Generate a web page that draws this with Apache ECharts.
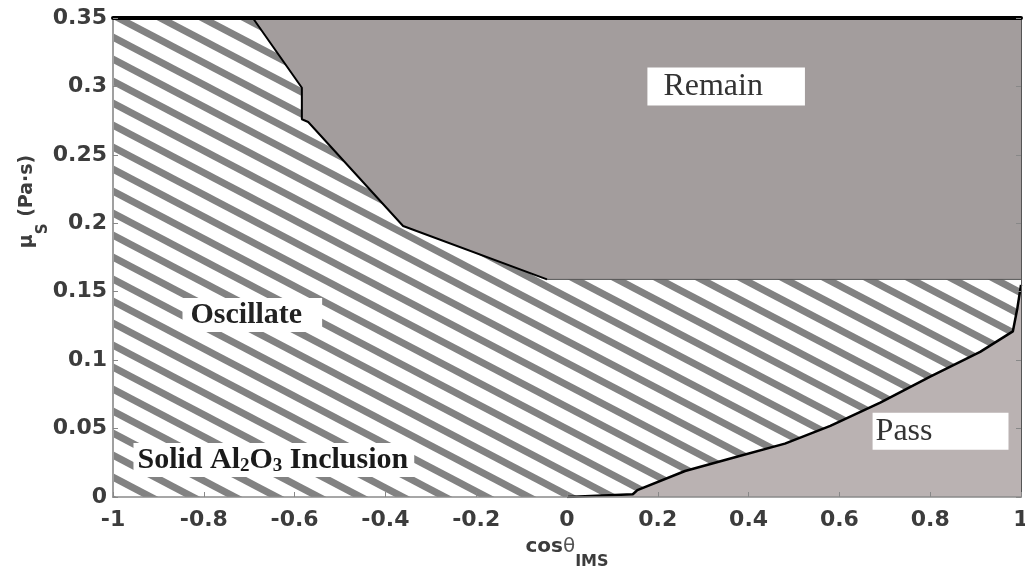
<!DOCTYPE html>
<html><head><meta charset="utf-8">
<script src="https://cdn.jsdelivr.net/npm/echarts@6/dist/echarts.min.js"></script>
<style>html,body{margin:0;padding:0;background:#fff}#c{width:1025px;height:567px}</style>
</head><body><div id="c"></div>
<script>
// ---- data ----
const xRange = [-1, 1];
const yRange = [0, 0.35];
const xTickStep = 0.2;
const yTickStep = 0.05;
// boundary between Oscillate (hatched) and Remain
const remainEdgeX = [-0.692, -0.584, -0.584, -0.570, -0.361, -0.044, 1.0];
const remainEdgeY = [0.350, 0.299, 0.276, 0.274, 0.198, 0.159, 0.159];
// boundary between Oscillate (hatched) and Pass
const passEdgeX = [0, 0.145, 0.155, 0.26, 0.37, 0.48, 0.58, 0.69, 0.80, 0.91, 0.982, 0.992, 1.0];
const passEdgeY = [0, 0.002, 0.005, 0.019, 0.029, 0.039, 0.052, 0.069, 0.088, 0.106, 0.121, 0.138, 0.155];
// region annotations
const regionNames = ['Remain', 'Pass', 'Oscillate', 'Solid Al2O3 Inclusion'];
const solidLabelParts = ['Solid Al', '2', 'O', '3', ' Inclusion'];
const labelX = [0.176, 0.672, -0.848, -0.956];
const labelY = [0.300, 0.048, 0.133, 0.027];

// ---- build ----
const pairs = (xs, ys) => xs.map((x, i) => [x, ys[i]]);
const remainEdge = pairs(remainEdgeX, remainEdgeY);
const passEdge = pairs(passEdgeX, passEdgeY);
const remainPoly = remainEdge.concat([[xRange[1], yRange[1]]]);
const passPoly = passEdge.concat([[xRange[1], yRange[0]]]);
const fullPoly = [[xRange[0], yRange[0]], [xRange[1], yRange[0]], [xRange[1], yRange[1]], [xRange[0], yRange[1]]];

// diagonal stripe tile
const PX = 42, PY = 22;
const tile = document.createElement('canvas');
tile.width = PX; tile.height = PY;
const tc = tile.getContext('2d');
tc.fillStyle = '#ffffff'; tc.fillRect(0, 0, PX, PY);
tc.strokeStyle = '#828282'; tc.lineWidth = 7;
for (let n = -2; n <= 3; n++) {
  tc.beginPath();
  tc.moveTo(-PX, PY * (-1 - n));
  tc.lineTo(2 * PX, PY * (2 - n));
  tc.stroke();
}

function polySeries(points, style, z) {
  return {
    type: 'custom', coordinateSystem: 'cartesian2d', data: points, z: z, silent: true,
    encode: { x: 0, y: 1 },
    renderItem: function (params, api) {
      if (params.dataIndex !== 0) return null;
      return { type: 'polygon', shape: { points: points.map(p => api.coord(p)) }, style: style };
    }
  };
}

const tickFont = { fontFamily: 'DejaVu Sans', fontWeight: 'bold', fontSize: 22, color: '#3c3c3c' };
const serif = 'Liberation Serif';

const chart = echarts.init(document.getElementById('c'));
chart.setOption({
  animation: false,
  backgroundColor: '#ffffff',
  grid: { left: 113, right: 4, top: 18, bottom: 70, containLabel: false, outerBoundsMode: 'none' },
  xAxis: [{
    type: 'value', min: xRange[0], max: xRange[1], interval: xTickStep, position: 'bottom', z: 10,
    axisLine: { show: true, onZero: false, lineStyle: { color: '#8a8a8a', width: 1.5 } },
    axisTick: { show: true, inside: true, length: 5, lineStyle: { color: '#888' } },
    axisLabel: Object.assign({ margin: 12 }, tickFont),
    splitLine: { show: false },
    name: '{a|cos}{t|θ}{s|IMS}', nameLocation: 'middle', nameGap: 40, nameMoveOverlap: false,
    nameTextStyle: { rich: {
      a: { fontFamily: 'DejaVu Sans', fontWeight: 'bold', fontSize: 20, color: '#3c3c3c', lineHeight: 22, verticalAlign: 'top' },
      t: { fontFamily: 'DejaVu Sans', fontSize: 20, color: '#555', lineHeight: 22, verticalAlign: 'top' },
      s: { fontFamily: 'DejaVu Sans', fontWeight: 'bold', fontSize: 16, color: '#3c3c3c', lineHeight: 33, verticalAlign: 'bottom' }
    } }
  }, {
    type: 'value', min: xRange[0], max: xRange[1], position: 'top', z: 10,
    axisLine: { show: true, onZero: false, lineStyle: { color: '#000', width: 4 } },
    axisTick: { show: false }, axisLabel: { show: false }, splitLine: { show: false }
  }],
  yAxis: [{
    type: 'value', min: yRange[0], max: yRange[1], interval: yTickStep, position: 'left', z: 10,
    axisLine: { show: true, onZero: false, lineStyle: { color: '#a0a0a0', width: 2 } },
    axisTick: { show: true, inside: true, length: 5, lineStyle: { color: '#888' } },
    axisLabel: Object.assign({ margin: 6, padding: [8, 0, 0, 0] }, tickFont),
    splitLine: { show: false },
    name: '{m|μ}{s|S}{m| (Pa·s)}', nameLocation: 'middle', nameRotate: 90, nameGap: 62, nameMoveOverlap: false,
    nameTextStyle: { padding: [0, 0, 0, 112], rich: {
      m: { fontFamily: 'DejaVu Sans', fontWeight: 'bold', fontSize: 19, color: '#3c3c3c', lineHeight: 22, verticalAlign: 'top' },
      s: { fontFamily: 'DejaVu Sans', fontWeight: 'bold', fontSize: 15, color: '#3c3c3c', lineHeight: 33, verticalAlign: 'bottom' }
    } }
  }, {
    type: 'value', min: yRange[0], max: yRange[1], interval: yTickStep, position: 'right', z: 10,
    axisLine: { show: true, onZero: false, lineStyle: { color: '#555', width: 1 } },
    axisTick: { show: true, inside: true, length: 5, lineStyle: { color: '#888' } },
    axisLabel: { show: false }, splitLine: { show: false }
  }],
  series: [
    polySeries(fullPoly, { fill: { image: tile, repeat: 'repeat' } }, 1),
    polySeries(remainPoly, { fill: '#a39d9d' }, 2),
    polySeries(passPoly, { fill: '#bab2b2' }, 2),
    { type: 'line', data: remainEdge.slice(0, 6), symbol: 'none', silent: true, z: 5,
      lineStyle: { color: '#000', width: 2 } },
    { type: 'line', data: remainEdge.slice(5), symbol: 'none', silent: true, z: 5,
      lineStyle: { color: '#555', width: 1 } },
    { type: 'line', data: passEdge, symbol: 'none', silent: true, z: 5,
      lineStyle: { color: '#000', width: 2.5 } },
    {
      type: 'scatter', symbolSize: 1, itemStyle: { color: 'rgba(0,0,0,0)', opacity: 1 }, z: 30, silent: true,
      label: { show: true, position: 'right', distance: 0, opacity: 1 },
      data: [
        { value: [labelX[0], labelY[0]], label: { formatter: regionNames[0], fontFamily: serif, fontSize: 32, lineHeight: 32, color: '#333', backgroundColor: '#fff', padding: [3, 42, 3, 16] } },
        { value: [labelX[1], labelY[1]], label: { formatter: regionNames[1], fontFamily: serif, fontSize: 32, lineHeight: 31, color: '#333', backgroundColor: '#fff', padding: [3, 76, 3, 3] } },
        { value: [labelX[2], labelY[2]], label: { formatter: regionNames[2], fontFamily: serif, fontWeight: 'bold', fontSize: 30, lineHeight: 30, color: '#222', backgroundColor: '#fff', padding: [2, 20, 2, 8] } },
        { value: [labelX[3], labelY[3]], label: {
          formatter: '{b|' + solidLabelParts[0] + '}{s|' + solidLabelParts[1] + '}{b|' + solidLabelParts[2] + '}{s|' + solidLabelParts[3] + '}{b|' + solidLabelParts[4] + '}',
          backgroundColor: '#fff', padding: [1, 6, 1, 4],
          rich: {
            b: { fontFamily: serif, fontWeight: 'bold', fontSize: 30, lineHeight: 32, color: '#1a1a1a', verticalAlign: 'middle' },
            s: { fontFamily: serif, fontWeight: 'bold', fontSize: 19, lineHeight: 19, color: '#1a1a1a', padding: [10, 0, 0, 0], verticalAlign: 'bottom' }
          } } }
      ]
    }
  ]
});
</script></body></html>
